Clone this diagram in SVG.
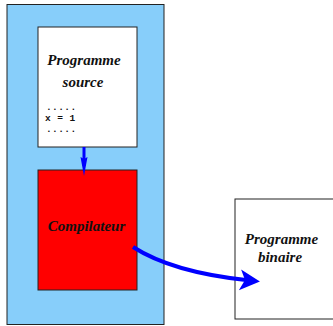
<svg xmlns="http://www.w3.org/2000/svg" width="333" height="326" viewBox="0 0 333 326">
<style>
.box{stroke:#222;stroke-width:1}
.lbl{font-family:"Liberation Serif",serif;font-weight:bold;font-style:italic;font-size:15px;fill:#111;text-anchor:middle}
.code{font-family:"Liberation Mono",monospace;font-weight:bold;font-size:9.5px;fill:#111}
.conn{stroke:#0000ff;fill:none}
</style>
<defs>
<marker id="ah1" markerUnits="userSpaceOnUse" markerWidth="20" markerHeight="8" refX="9" refY="3.5" orient="auto" overflow="visible">
<path d="M0,0 L19,3.5 L0,7 L2,3.5 Z" fill="#0000ff"/>
</marker>
<marker id="ah2" markerUnits="userSpaceOnUse" markerWidth="22" markerHeight="22" refX="6" refY="10" orient="auto" overflow="visible">
<path d="M0,0 L20,10 L0,21 L5,10 Z" fill="#0000ff"/>
</marker>
</defs>
<rect x="0" y="0" width="333" height="326" fill="#fff"/>
<g id="machine"><rect class="box" x="7" y="4.5" width="157" height="320" fill="#87cefa"/></g>
<g id="source">
<rect class="box" x="38" y="27" width="99" height="120" fill="#fff"/>
<text class="lbl" x="84" y="65">Programme</text>
<text class="lbl" x="83" y="87">source</text>
<text class="code" x="46" y="109.5" letter-spacing="0.4">.....</text>
<text class="code" x="45" y="121" letter-spacing="0.4">x = 1</text>
<text class="code" x="46" y="131.5" letter-spacing="0.4">.....</text>
</g>
<g id="compilateur">
<rect class="box" x="38" y="170" width="99" height="120" fill="#ff0000"/>
<text class="lbl" x="86.5" y="231">Compilateur</text>
</g>
<g id="binaire">
<rect class="box" x="235" y="199" width="110" height="120" fill="#fff"/>
<text class="lbl" x="281.5" y="244">Programme</text>
<text class="lbl" x="280" y="262">binaire</text>
</g>
<g id="connectors">
<path class="conn" d="M84,147 L84,166" stroke-width="3" marker-end="url(#ah1)"/>
<path class="conn" d="M133,247 Q172,272 246,280" stroke-width="4" marker-end="url(#ah2)"/>
</g>
</svg>
